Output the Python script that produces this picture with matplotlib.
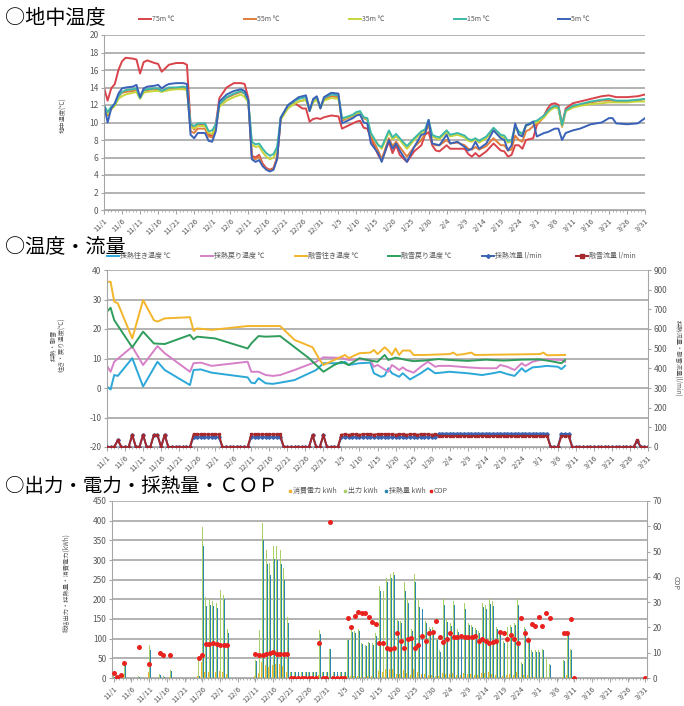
import matplotlib
matplotlib.use('Agg')
import matplotlib.pyplot as plt
import numpy as np
from matplotlib.lines import Line2D
from matplotlib.ticker import MultipleLocator

plt.rcParams['font.family'] = ['Noto Sans CJK JP', 'DejaVu Sans']
plt.rcParams['axes.unicode_minus'] = False

# 横軸ラベル（5日おき）
tick_labels = ['11/1', '11/6', '11/11', '11/16', '11/21', '11/26', '12/1', '12/6', '12/11', '12/16',
               '12/21', '12/26', '12/31', '1/5', '1/10', '1/15', '1/20', '1/25', '1/30', '2/4',
               '2/9', '2/14', '2/19', '2/24', '3/1', '3/6', '3/11', '3/16', '3/21', '3/26', '3/31']
n_days = 151

# ---- 地中温度 ----
g_days = [0, 1, 2, 3, 4, 5, 6, 8, 9, 10,
          11, 12, 14, 15, 16, 17, 18, 20, 22, 23,
          24, 25, 26, 28, 29, 30, 31, 32, 34, 36,
          38, 39, 40, 41, 42, 43, 44, 45, 46, 47,
          48, 49, 51, 53, 54, 55, 56, 57, 58, 59,
          60, 61, 63, 65, 66, 67, 69, 70, 71, 72,
          73, 74, 76, 77, 79, 80, 81, 82, 84, 86,
          88, 89, 90, 91, 92, 93, 95, 96, 98, 100,
          101, 102, 103, 104, 106, 108, 110, 111, 112, 113,
          114, 115, 116, 117, 118, 119, 120, 122, 123, 124,
          125, 126, 127, 128, 130, 132, 135, 138, 140, 141,
          142, 145, 148, 150]
t75 = [14.0, 12.5, 13.9, 14.4, 16.0, 17.0, 17.4, 17.3, 17.2, 15.6,
       16.9, 17.1, 16.8, 16.7, 15.8, 16.2, 16.6, 16.8, 16.8, 16.6,
       9.8, 9.2, 9.7, 9.7, 8.6, 8.5, 9.8, 12.8, 14.0, 14.5,
       14.5, 14.4, 12.8, 6.2, 6.0, 6.3, 5.3, 4.8, 4.6, 4.8,
       6.0, 10.5, 11.9, 12.2, 11.9, 11.6, 11.6, 10.1, 10.4, 10.5,
       10.4, 10.6, 10.8, 10.7, 9.3, 9.5, 9.9, 10.1, 10.2, 9.4,
       9.3, 8.2, 6.3, 5.7, 7.8, 6.5, 7.4, 6.3, 5.5, 6.7,
       7.4, 8.6, 8.9, 7.4, 6.8, 6.7, 7.4, 7.0, 7.0, 7.0,
       6.4, 6.1, 6.5, 6.1, 6.7, 7.6, 6.8, 6.7, 6.1, 6.3,
       7.4, 7.4, 7.0, 8.0, 8.1, 8.2, 9.7, 10.8, 11.6, 12.1,
       12.2, 12.0, 9.7, 11.6, 12.2, 12.4, 12.7, 13.0, 13.1, 13.0,
       12.9, 12.9, 13.0, 13.2]
t55 = [12.0, 10.8, 11.6, 12.0, 13.0, 13.4, 13.5, 13.6, 13.7, 12.8,
       13.6, 13.7, 13.8, 13.8, 13.6, 13.8, 13.9, 13.9, 14.0, 13.9,
       9.0, 8.8, 9.3, 9.3, 8.4, 8.3, 9.3, 12.1, 12.8, 13.2,
       13.5, 13.3, 12.5, 6.0, 5.8, 6.1, 5.1, 4.7, 4.5, 4.7,
       5.9, 10.5, 11.8, 12.2, 12.4, 12.5, 12.6, 11.5, 12.4, 12.8,
       11.8, 12.6, 13.0, 12.9, 10.2, 10.4, 10.7, 11.0, 11.1, 10.5,
       10.3, 8.4, 6.8, 5.8, 8.2, 7.3, 7.8, 7.2, 6.1, 7.2,
       8.0, 8.7, 9.8, 7.6, 7.4, 7.4, 8.0, 7.6, 7.7, 7.4,
       7.0, 6.9, 7.2, 6.9, 7.3, 8.2, 7.4, 7.4, 6.8, 6.9,
       8.5, 8.0, 7.8, 9.0, 9.2, 9.6, 9.8, 10.6, 11.2, 11.6,
       11.8, 11.6, 9.5, 11.3, 11.8, 12.0, 12.3, 12.5, 12.5, 12.5,
       12.4, 12.4, 12.5, 12.7]
t35 = [11.8, 11.0, 11.5, 11.9, 12.7, 13.0, 13.2, 13.4, 13.5, 12.7,
       13.4, 13.5, 13.6, 13.6, 13.5, 13.6, 13.7, 13.8, 13.8, 13.7,
       9.5, 9.3, 9.6, 9.6, 8.8, 8.7, 9.5, 11.8, 12.5, 12.9,
       13.2, 12.9, 12.3, 7.5, 7.2, 7.3, 6.6, 6.1, 5.8, 6.0,
       6.8, 10.3, 11.6, 12.2, 12.4, 12.5, 12.6, 11.3, 12.3, 12.6,
       11.6, 12.5, 12.8, 12.7, 10.4, 10.5, 10.8, 11.0, 11.1, 10.6,
       10.4, 8.7, 7.5, 7.0, 8.9, 8.1, 8.4, 8.0, 7.0, 8.0,
       8.8, 9.0, 10.1, 8.4, 8.2, 8.1, 8.9, 8.4, 8.6, 8.3,
       7.9, 7.8, 8.1, 7.7, 8.2, 9.1, 8.4, 8.3, 7.7, 7.8,
       9.4, 8.9, 8.6, 9.6, 9.8, 10.0, 10.0, 10.6, 11.1, 11.5,
       11.7, 11.6, 9.6, 11.3, 11.7, 11.9, 12.1, 12.2, 12.3, 12.3,
       12.3, 12.3, 12.4, 12.4]
t15 = [12.0, 11.2, 11.8, 12.1, 13.0, 13.5, 13.7, 13.8, 13.9, 12.8,
       13.7, 13.8, 13.9, 13.9, 13.6, 13.8, 14.0, 14.0, 14.1, 14.0,
       9.8, 9.6, 9.9, 9.9, 9.0, 9.1, 9.8, 12.1, 12.9, 13.3,
       13.6, 13.3, 12.5, 7.8, 7.5, 7.6, 7.0, 6.5, 6.2, 6.4,
       7.2, 10.6, 11.9, 12.5, 12.7, 12.8, 12.9, 11.4, 12.6, 12.9,
       11.7, 12.8, 13.2, 13.1, 10.5, 10.6, 10.9, 11.2, 11.3, 10.6,
       10.5, 8.8, 7.4, 7.2, 9.1, 8.3, 8.7, 8.2, 7.3, 8.2,
       9.0, 9.2, 10.3, 8.6, 8.4, 8.3, 9.1, 8.6, 8.8, 8.5,
       8.1, 8.0, 8.2, 7.9, 8.4, 9.4, 8.6, 8.5, 7.9, 8.0,
       9.6, 9.0, 8.7, 9.7, 9.9, 10.1, 10.2, 10.8, 11.3, 11.7,
       11.9, 11.8, 9.7, 11.4, 11.9, 12.1, 12.4, 12.6, 12.7, 12.6,
       12.5, 12.5, 12.6, 12.7]
t5 = [12.0, 10.0, 11.6, 12.2, 13.3, 13.9, 14.0, 14.1, 14.3, 12.9,
      13.9, 14.1, 14.2, 14.3, 13.9, 14.2, 14.4, 14.5, 14.5, 14.4,
      8.6, 8.2, 8.8, 8.8, 7.9, 7.8, 9.0, 12.4, 13.2, 13.6,
      13.8, 13.6, 12.6, 5.8, 5.5, 5.7, 5.0, 4.6, 4.4, 4.6,
      5.8, 10.5, 12.0, 12.6, 12.9, 13.0, 13.1, 11.3, 12.7, 13.0,
      11.6, 12.9, 13.4, 13.3, 9.9, 10.1, 10.5, 10.8, 10.9, 10.0,
      9.9, 7.6, 6.5, 5.5, 8.0, 7.0, 7.6, 6.8, 5.5, 7.2,
      8.6, 8.7, 10.3, 7.6, 7.5, 7.4, 8.6, 7.6, 7.8, 7.2,
      6.8, 7.0, 7.8, 7.0, 7.6, 9.1, 8.2, 8.0, 6.8, 7.4,
      9.9, 8.6, 8.4, 9.7, 9.8, 10.1, 8.4, 8.8, 8.9, 9.1,
      9.3, 9.3, 8.0, 8.8, 9.1, 9.3, 9.8, 10.0, 10.5, 10.5,
      9.9, 9.8, 9.9, 10.5]

# ---- 温度・流量 ----
sup_c_days = [0, 1, 2, 3, 7, 10, 14, 16, 23, 24, 26, 29, 39, 40, 41, 42, 44, 46, 48, 52,
              58, 60, 65, 66, 67, 70, 73, 74, 76, 77, 78, 79, 81, 82, 84, 85, 87, 89, 91, 95,
              100, 104, 107, 109, 111, 113, 115, 116, 118, 120, 122, 125, 126, 127]
sup_c = [0.5, -0.5, 4.4, 4.1, 10.1, 0.5, 8.9, 6.1, 1.0, 6.1, 6.3, 5.2, 3.6, 1.8, 1.6, 3.3, 1.6, 1.4, 1.8, 2.7,
         6.1, 8.4, 8.4, 8.9, 7.8, 8.4, 8.6, 5.0, 3.8, 4.2, 6.7, 5.0, 3.8, 5.0, 2.9, 3.6, 5.0, 6.7, 5.0, 5.5,
         5.0, 4.4, 5.0, 5.5, 4.7, 4.1, 6.7, 5.5, 7.0, 7.2, 7.5, 7.2, 6.4, 7.5]
ret_c_days = [0, 1, 2, 7, 10, 14, 16, 23, 24, 26, 29, 39, 40, 42, 44, 46, 48, 52, 58, 60,
              65, 67, 70, 73, 74, 75, 78, 79, 80, 81, 82, 83, 85, 87, 89, 91, 92, 95, 100, 104,
              108, 109, 111, 113, 115, 116, 118, 120, 122, 126, 127]
ret_c = [7.5, 5.5, 8.9, 14.0, 7.8, 14.2, 11.8, 5.5, 8.4, 8.6, 7.5, 8.9, 5.5, 5.5, 4.4, 4.1, 4.4, 6.1, 8.9, 10.4,
         10.2, 9.5, 9.7, 9.5, 7.2, 7.8, 5.5, 7.8, 7.0, 6.1, 7.0, 6.1, 5.2, 7.2, 8.9, 7.2, 7.5, 7.5, 7.0, 6.7,
         6.7, 7.8, 7.2, 6.1, 8.4, 7.5, 8.9, 9.5, 9.7, 9.5, 8.9]
sup_s_days = [0, 1, 2, 3, 7, 10, 13, 14, 16, 23, 24, 25, 29, 39, 48, 52, 57, 59, 60, 63,
              66, 67, 70, 73, 74, 75, 77, 78, 79, 80, 81, 82, 84, 85, 88, 95, 96, 97, 99, 101,
              102, 120, 121, 122, 127]
sup_s = [36.0, 36.0, 29.3, 28.7, 16.8, 29.8, 23.0, 22.5, 23.6, 24.0, 19.4, 20.2, 19.7, 21.0, 21.0, 16.3, 13.8, 9.5, 7.8, 9.5,
         11.2, 10.1, 11.8, 12.0, 12.9, 11.5, 13.8, 12.7, 11.2, 13.4, 11.2, 12.7, 12.7, 11.2, 11.2, 11.5, 12.0, 11.2, 11.5, 12.0,
         11.2, 11.5, 12.0, 11.1, 11.2]
ret_s_days = [0, 1, 2, 7, 10, 13, 16, 23, 24, 25, 30, 39, 40, 42, 44, 48, 56, 60, 63, 65,
              67, 70, 73, 75, 77, 78, 80, 83, 85, 88, 92, 95, 100, 105, 110, 115, 120, 123, 126, 127]
ret_s = [25.9, 27.2, 23.0, 13.8, 19.1, 15.1, 14.9, 18.0, 16.5, 17.4, 16.8, 13.4, 15.1, 17.6, 17.4, 17.6, 10.1, 5.5, 7.8, 8.9,
         7.8, 10.1, 9.3, 8.9, 11.2, 9.5, 10.3, 9.5, 9.1, 9.3, 9.8, 9.5, 9.2, 9.6, 9.3, 9.6, 9.7, 9.1, 8.4, 9.5]

flow_c = [0, 0, 0, 35, 0, 0, 0, 62, 0, 0, 62, 0, 0, 62, 60, 0, 62, 0, 0, 0,
          0, 0, 0, 0, 50, 50, 50, 50, 50, 50,
          50, 50, 0, 0, 0, 0, 0, 0, 0, 0, 50, 50, 50, 50, 50, 50, 50, 50, 50, 0,
          0, 0, 0, 0, 0, 0, 0, 60, 0, 0, 60,
          0, 0, 0, 0, 50, 50, 50, 50, 50, 50, 50, 50, 50, 50, 50, 50, 50, 50, 50, 50,
          50, 50, 50, 50, 50, 50, 50, 50, 50, 50, 50,
          68, 68, 68, 68, 68, 68, 68, 68, 68, 68, 68, 68, 68, 68, 68, 68, 68, 68, 68, 68,
          68, 68, 68, 68, 68, 68, 68, 68,
          68, 68, 68, 0, 0, 0, 66, 66, 66, 0, 0, 0, 0, 0, 0, 0, 0, 0, 0, 0,
          0, 0, 0, 0, 0, 0, 0, 30, 0, 0, 0]
flow_s = [0, 0, 0, 35, 0, 0, 0, 62, 0, 0, 62, 0, 0, 62, 60, 0, 62, 0, 0, 0,
          0, 0, 0, 0, 64, 64, 64, 64, 64, 64,
          64, 64, 0, 0, 0, 0, 0, 0, 0, 0, 64, 64, 64, 64, 64, 64, 64, 64, 64, 0,
          0, 0, 0, 0, 0, 0, 0, 60, 0, 0, 60,
          0, 0, 0, 0, 63, 64, 62, 65, 64, 63, 64, 66, 64, 63, 65, 64, 66, 65, 64, 63,
          65, 64, 63, 64, 65, 63, 64, 65, 64, 63, 64,
          56, 57, 56, 55, 56, 56, 57, 56, 55, 56, 56, 56, 57, 56, 55, 56, 56, 56, 57, 56,
          55, 56, 56, 56, 57, 56, 56, 56,
          56, 56, 56, 0, 0, 0, 56, 56, 54, 0, 0, 0, 0, 0, 0, 0, 0, 0, 0, 0,
          0, 0, 0, 0, 0, 0, 0, 35, 0, 0, 0]

# ---- 出力・電力・採熱量・COP ----
power = [4, 1, 2, 7, 0, 0, 0, 1, 0, 0, 15, 0, 0, 1, 1, 0, 2, 0, 0, 0,
         0, 0, 0, 0, 6, 40, 15, 15, 14, 14,
         17, 16, 10, 0, 0, 0, 0, 0, 0, 0, 5, 13, 40, 33, 29, 33, 35, 35, 30, 16,
         1, 1, 1, 1, 1, 1, 1, 1, 8, 1, 1,
         1, 1, 1, 1, 1, 4, 6, 5, 5, 3, 3, 4, 4, 5, 17, 16, 22, 23, 23, 9,
         10, 20, 13, 8, 22, 15, 11, 10, 7, 7, 4,
         4, 12, 9, 9, 12, 8, 7, 12, 9, 9, 8, 8, 13, 13, 14, 11, 7, 7, 6, 8,
         9, 8, 14, 2, 7, 7, 3, 3,
         3, 3, 2, 1, 0, 0, 0, 3, 7, 3, 0, 0, 0, 0, 0, 0, 0, 0, 0, 0,
         0, 0, 0, 0, 0, 0, 0, 0, 0, 0, 0]
output = [8, 2, 4, 42, 0, 0, 0, 4, 0, 0, 85, 0, 0, 10, 4, 0, 20, 0, 0, 0,
          0, 0, 0, 0, 50, 385, 205, 200, 195, 190,
          225, 212, 125, 0, 0, 0, 0, 0, 0, 0, 45, 122, 395, 325, 292, 336, 335, 325, 280, 155,
          15, 15, 15, 15, 15, 15, 15, 15, 122, 15, 15,
          75, 15, 15, 15, 15, 100, 125, 120, 125, 90, 85, 92, 88, 115, 235, 220, 255, 265, 270, 150,
          145, 245, 200, 125, 265, 200, 185, 145, 130, 130, 100,
          70, 200, 150, 140, 195, 125, 110, 190, 140, 135, 128, 120, 190, 185, 200, 195, 130, 120, 95, 130,
          135, 140, 200, 40, 130, 105, 70, 70,
          70, 75, 50, 35, 0, 0, 0, 45, 115, 75, 0, 0, 0, 0, 0, 0, 0, 0, 0, 0,
          0, 0, 0, 0, 0, 0, 0, 0, 0, 0, 0]
heat = [3, 1, 2, 35, 0, 0, 0, 3, 0, 0, 72, 0, 0, 8, 3, 0, 18, 0, 0, 0,
        0, 0, 0, 0, 5, 335, 182, 185, 182, 178,
        210, 200, 115, 0, 0, 0, 0, 0, 0, 0, 42, 110, 350, 290, 262, 302, 300, 290, 250, 140,
        14, 14, 14, 14, 14, 14, 14, 14, 113, 14, 14,
        73, 14, 14, 14, 14, 96, 118, 114, 120, 86, 81, 88, 84, 108, 220, 210, 245, 255, 262, 145,
        140, 222, 190, 120, 245, 180, 175, 140, 125, 122, 96,
        65, 186, 142, 132, 186, 118, 104, 176, 134, 129, 122, 114, 180, 175, 188, 184, 124, 114, 90, 124,
        130, 134, 186, 36, 124, 100, 66, 66,
        66, 71, 47, 32, 0, 0, 0, 42, 110, 70, 0, 0, 0, 0, 0, 0, 0, 0, 0, 0,
        0, 0, 0, 0, 0, 0, 0, 0, 0, 0, 0]
cop = [2.0, 0.5, 1.0, 6.0, None, None, None, 12.4, None, None, 5.7, None, None, 10.0, 9.0, None, 9.0, None, None, None,
       None, None, None, None, 8.0, 9.0, 13.5, 13.5, 13.7, 13.5,
       13.2, 13.2, 13.0, None, None, None, None, None, None, None, 9.3, 9.0, 9.0, 9.6, 10.0, 10.2, 9.5, 9.3, 9.3, 9.4,
       0, 0, 0, 0, 0, 0, 0, 0, 14.0, 0, 0,
       61.5, 0, 0, 0, 0, 23.7, 20.0, 24.5, 26.0, 25.8, 25.6, 24.0, 22.2, 21.5, 14.0, 14.0, 11.7, 11.5, 11.7, 17.6,
       14.6, 12.0, 15.3, 15.7, 12.0, 13.0, 16.6, 14.6, 17.6, 18.3, 22.5,
       16.3, 14.3, 15.3, 17.6, 16.3, 16.4, 16.6, 16.3, 16.3, 16.3, 16.6, 14.6, 15.3, 14.6, 13.7, 14.3, 14.6, 18.3, 17.9, 15.3,
       17.2, 15.3, 14.0, 23.8, 17.6, 15.0, 21.3, 20.7,
       24.0, 20.7, 25.8, 23.8, None, None, None, 17.6, 17.6, 23.2, 0, None, None, None, None, None, None, None, None, None,
       None, None, None, None, None, None, None, None, None, None, 0]

W, H = 684, 706
GRID = '#a6a6a6'
TXT = '#595959'

fig = plt.figure(figsize=(W / 100, H / 100), dpi=100)


def box(l, t, r, b):
    # ピクセル座標 -> figure座標
    return [l / W, 1 - b / H, (r - l) / W, (b - t) / H]


def fx(x):
    return x / W


def fy(y):
    return 1 - y / H


def setup(ax, xlim, ylim, ystep, minor_off=0):
    ax.set_xlim(*xlim)
    ax.set_ylim(*ylim)
    ax.yaxis.set_major_locator(MultipleLocator(ystep))
    ax.set_xticks(range(0, n_days, 5))
    ax.set_xticklabels(tick_labels, rotation=45, ha='right', rotation_mode='anchor',
                       fontsize=5.5, color=TXT)
    ax.set_xticks(np.arange(n_days) + minor_off, minor=True)
    ax.tick_params(axis='x', which='major', length=3, color=GRID, pad=2)
    ax.tick_params(axis='x', which='minor', length=1.5, color=GRID)
    ax.tick_params(axis='y', labelsize=6, labelcolor=TXT, length=2, color=GRID, pad=2)
    ax.grid(axis='y', color=GRID, lw=1.2)
    ax.set_axisbelow(True)
    for s in ['top', 'right']:
        ax.spines[s].set_visible(False)
    for s in ['left', 'bottom']:
        ax.spines[s].set_color(GRID)


def leg_line(x, y, text, color, marker=None, ms=2.5):
    fig.add_artist(Line2D([fx(x), fx(x + 12)], [fy(y), fy(y)], color=color, lw=1.4))
    if marker:
        fig.add_artist(Line2D([fx(x + 6)], [fy(y)], color=color, marker=marker, ms=ms, lw=0))
    fig.text(fx(x + 13), fy(y), text, fontsize=5, color=TXT, va='center')


def leg_dot(x, y, text, color):
    fig.add_artist(Line2D([fx(x)], [fy(y)], color=color, marker='s', ms=2, lw=0))
    fig.text(fx(x + 3), fy(y), text, fontsize=5, color=TXT, va='center')


days = np.arange(n_days)

# ===== 地中温度 =====
ax1 = fig.add_axes(box(104, 35, 645, 210))
c75, c55, c35, c15, c5 = '#d9434b', '#e07d3c', '#c8d63c', '#3db8a8', '#3a62b8'
ax1.plot(g_days, t75, color=c75, lw=1.4)
ax1.plot(g_days, t55, color=c55, lw=1.4)
ax1.plot(g_days, t35, color=c35, lw=1.4)
ax1.plot(g_days, t15, color=c15, lw=1.4)
ax1.plot(g_days, t5, color=c5, lw=1.4)
setup(ax1, (0, 150), (0, 20), 2)
fig.text(fx(5), fy(19), '○地中温度', fontsize=14.5, va='center')
fig.text(fx(63), fy(115), '地中温度(℃)', fontsize=4.5, color=TXT, rotation=90, ha='center', va='center')
for x, t, c in zip([139, 244, 349, 454, 558], ['75m ℃', '55m ℃', '35m ℃', '15m ℃', '5m ℃'],
                   [c75, c55, c35, c15, c5]):
    leg_line(x, 19, t, c)

# ===== 温度・流量 =====
ax2 = fig.add_axes(box(107, 270, 648, 447))
cs1, cs2, cs3, cs4, cf1, cf2 = '#2ba8d8', '#d680c8', '#f3b52a', '#2f9d5c', '#3b63b0', '#a5282d'
ax2.plot(sup_c_days, sup_c, color=cs1, lw=1.4)
ax2.plot(ret_c_days, ret_c, color=cs2, lw=1.4)
ax2.plot(sup_s_days, sup_s, color=cs3, lw=1.4)
ax2.plot(ret_s_days, ret_s, color=cs4, lw=1.4)
setup(ax2, (0, 150), (-20, 40), 10)
ax2r = ax2.twinx()
ax2r.plot(days, flow_c, color=cf1, lw=1.4, marker='D', ms=1.8)
ax2r.plot(days, flow_s, color=cf2, lw=1.4, marker='s', ms=2.0)
ax2r.set_ylim(0, 900)
ax2r.yaxis.set_major_locator(MultipleLocator(100))
ax2r.tick_params(axis='y', labelsize=6, labelcolor=TXT, length=2, color=GRID, pad=2)
for s in ['top', 'left', 'bottom']:
    ax2r.spines[s].set_visible(False)
ax2r.spines['right'].set_color(GRID)
fig.text(fx(5), fy(247), '○温度・流量', fontsize=14.5, va='center')
fig.text(fx(58), fy(345), '採熱・融雪\n往き・戻り温度(℃)', fontsize=4.5, color=TXT, rotation=90,
         ha='center', va='center', linespacing=1.3)
fig.text(fx(678), fy(358), '採熱流量・融雪流量(l/min)', fontsize=4.5, color=TXT, rotation=270,
         ha='center', va='center')
leg_line(107, 256, '採熱往き温度 ℃', cs1)
leg_line(201, 256, '採熱戻り温度 ℃', cs2)
leg_line(295, 256, '融雪往き温度 ℃', cs3)
leg_line(388, 256, '融雪戻り温度 ℃', cs4)
leg_line(482, 256, '採熱流量 l/min', cf1, marker='D', ms=2)
leg_line(576, 256, '融雪流量 l/min', cf2, marker='s', ms=2.2)

# ===== 出力・電力・採熱量・COP =====
ax3 = fig.add_axes(box(112, 501, 647, 678))
cp, co, ch, cc = '#f2b233', '#a8d066', '#2b87b0', '#e8231f'
bw = 0.27
ax3.bar(days - bw, power, width=bw, color=cp, lw=0)
ax3.bar(days, output, width=bw, color=co, lw=0)
ax3.bar(days + bw, heat, width=bw, color=ch, lw=0)
setup(ax3, (-0.5, 150.5), (0, 450), 50, minor_off=0.5)
ax3r = ax3.twinx()
ax3r.plot(days, np.array(cop, dtype=float), 'o', color=cc, ms=3.6, mec='none')
ax3r.set_ylim(0, 70)
ax3r.yaxis.set_major_locator(MultipleLocator(10))
ax3r.tick_params(axis='y', labelsize=6, labelcolor=TXT, length=2, color=GRID, pad=2)
for s in ['top', 'left', 'bottom']:
    ax3r.spines[s].set_visible(False)
ax3r.spines['right'].set_color(GRID)
fig.text(fx(5), fy(486), '○出力・電力・採熱量・ＣＯＰ', fontsize=14, va='center')
fig.text(fx(66), fy(583), '総括出力・採熱量・消費電力(kWh)', fontsize=4.5, color=TXT, rotation=90,
         ha='center', va='center')
fig.text(fx(676), fy(583), 'COP', fontsize=5, color=TXT, rotation=270, ha='center', va='center')
leg_dot(290, 491, '消費電力 kWh', cp)
leg_dot(345, 491, '出力 kWh', co)
leg_dot(386, 491, '採熱量 kWh', ch)
leg_dot(431, 491, 'COP', cc)

fig.savefig('out.png', dpi=100)
